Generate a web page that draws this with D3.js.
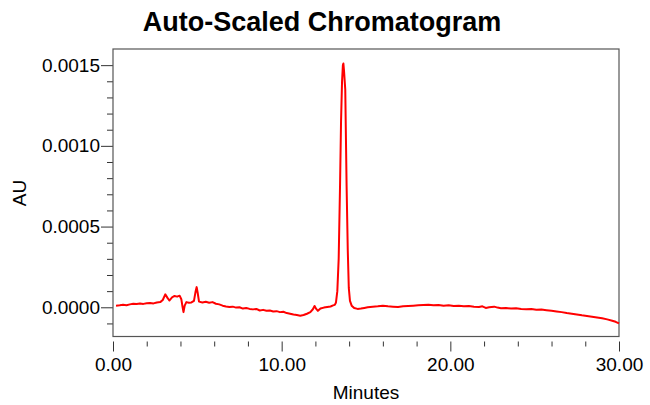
<!DOCTYPE html>
<html>
<head>
<meta charset="utf-8">
<script src="https://cdn.jsdelivr.net/npm/d3@7"></script>
<style>
  html, body { margin: 0; padding: 0; background: #fff; }
  svg { display: block; font-family: "Liberation Sans", Arial, sans-serif; }
</style>
</head>
<body>
<svg id="chart" width="650" height="405"></svg>
<script>
// ---- data ----
const title = "Auto-Scaled Chromatogram";
const xLabel = "Minutes";
const yLabel = "AU";
const xMajorTicks = [0, 10, 20, 30];
const yMajorTicks = [0, 0.0005, 0.0010, 0.0015];

const timeMin = [
  0.18, 0.4, 0.6, 0.8, 1.0, 1.2, 1.4, 1.6, 1.8, 2.0, 2.2, 2.4, 2.6, 2.8, 2.95,
  3.1, 3.25, 3.35, 3.5, 3.65, 3.8, 3.95, 4.05, 4.12, 4.18, 4.25, 4.35, 4.5, 4.65,
  4.8, 4.9, 4.96, 5.02, 5.1, 5.3, 5.5, 5.7, 5.9, 6.1, 6.3, 6.5, 6.7, 6.9, 7.1,
  7.3, 7.5, 7.7, 7.9, 8.1, 8.3, 8.5, 8.7, 8.9, 9.1, 9.3, 9.5, 9.7, 9.9, 10.1,
  10.3, 10.5, 10.7, 10.9, 11.1, 11.3, 11.5, 11.7, 11.85, 11.95, 12.05, 12.15,
  12.3, 12.5, 12.7, 12.9, 13.05,
  13.15, 13.22, 13.30, 13.38, 13.46, 13.52, 13.58, 13.63, 13.66, 13.70, 13.77,
  13.81, 13.85, 13.92, 13.98, 14.05, 14.15,
  14.3, 14.5, 14.7, 14.9, 15.1, 15.4, 15.7, 16.0, 16.3, 16.6, 16.9, 17.2, 17.5,
  17.8, 18.1, 18.4, 18.7, 19.0, 19.3, 19.6, 19.9, 20.2, 20.5, 20.8, 21.1, 21.4,
  21.7, 21.9, 22.1, 22.3, 22.6, 22.8, 23.0, 23.3, 23.6, 23.9, 24.2, 24.5, 24.8,
  25.1, 25.4, 25.7, 26.0, 26.3, 26.6, 26.9, 27.2, 27.5, 27.8, 28.1, 28.4, 28.7,
  29.0, 29.3, 29.6, 29.8, 30.0
];
const absorbanceAU = [
  0.000010, 0.000012, 0.000015, 0.000013, 0.000018, 0.000022, 0.000020, 0.000024,
  0.000021, 0.000025, 0.000027, 0.000024, 0.000030, 0.000032, 0.000045,
  0.000080, 0.000055, 0.000042, 0.000062, 0.000070, 0.000066, 0.000072, 0.000050,
  0.000005, -0.000030, 0.000010, 0.000032, 0.000028, 0.000030,
  0.000040, 0.000100, 0.000125, 0.000090, 0.000035, 0.000030, 0.000034, 0.000028,
  0.000032, 0.000022, 0.000018, 0.000010, 0.000005, 0.000002, 0.000004,
  -0.000002, 0.000000, -0.000008, -0.000005, -0.000010, -0.000013, -0.000010,
  -0.000020, -0.000016, -0.000022, -0.000020, -0.000026, -0.000024, -0.000030,
  -0.000028, -0.000036, -0.000040, -0.000045, -0.000048, -0.000052, -0.000048,
  -0.000040, -0.000030, -0.000012, 0.000008, -0.000010, -0.000022,
  -0.000008, -0.000002, 0.000002, 0.000005, 0.000012,
  0.000015, 0.000030, 0.000100, 0.000300, 0.000750, 0.001150, 0.001400, 0.001500,
  0.001510, 0.001460, 0.001350, 0.001050, 0.000750, 0.000350, 0.000120, 0.000040,
  0.000010,
  -0.000005, -0.000010, -0.000008, -0.000004, 0.000000, 0.000004, 0.000006,
  0.000010, 0.000006, 0.000004, 0.000002, 0.000006, 0.000008,
  0.000010, 0.000012, 0.000014, 0.000016, 0.000012, 0.000014, 0.000010, 0.000012,
  0.000008, 0.000010, 0.000006, 0.000008, 0.000004,
  0.000002, 0.000006, -0.000004, 0.000000, 0.000004, -0.000002, -0.000006,
  -0.000004, -0.000008, -0.000006, -0.000010, -0.000012, -0.000010,
  -0.000015, -0.000014, -0.000018, -0.000022, -0.000026, -0.000030, -0.000036,
  -0.000040, -0.000045, -0.000050, -0.000054, -0.000058, -0.000063,
  -0.000068, -0.000075, -0.000083, -0.000090, -0.000100
];

// ---- chart ----
const svg = d3.select("#chart");
const L = 113, R = 619, T = 49, B = 336.5;

const x = d3.scaleLinear().domain([0, 30]).range([L, R]);
const y = d3.scaleLinear().domain([-0.000181, 0.0016]).range([B, T]);

const font = 19;

// title
svg.append("text")
  .attr("x", 322).attr("y", 31)
  .attr("text-anchor", "middle")
  .attr("font-size", 27).attr("font-weight", "bold")
  .attr("fill", "#000")
  .text(title);

// y axis (ticks outside left of frame)
const yMinor = d3.range(-1, 16).map(i => i * 0.0001).filter(v => !yMajorTicks.some(m => Math.abs(m - v) < 1e-9));
const yAxis = d3.axisLeft(y).tickValues(yMajorTicks).tickSize(12).tickPadding(1)
  .tickFormat(d3.format(".4f"));
const gy = svg.append("g").attr("transform", `translate(${L},0)`).call(yAxis);
gy.select(".domain").remove();
gy.selectAll(".tick line").attr("stroke", "#333");
gy.selectAll(".tick text").attr("font-size", font).attr("fill", "#000")
  .attr("font-family", "Liberation Sans, Arial, sans-serif");
const gyMinor = svg.append("g").attr("transform", `translate(${L},0)`)
  .call(d3.axisLeft(y).tickValues(yMinor).tickSize(6).tickFormat(""));
gyMinor.select(".domain").remove();
gyMinor.selectAll(".tick line").attr("stroke", "#333");

// x axis (ticks below, with a small gap under the frame)
const xMinor = d3.range(0, 31, 2).filter(v => !xMajorTicks.includes(v));
const gx = svg.append("g").attr("transform", `translate(0,${B + 5})`)
  .call(d3.axisBottom(x).tickValues(xMajorTicks).tickSize(10).tickPadding(6)
    .tickFormat(d3.format(".2f")));
gx.select(".domain").remove();
gx.selectAll(".tick line").attr("stroke", "#333");
gx.selectAll(".tick text").attr("font-size", font).attr("fill", "#000")
  .attr("font-family", "Liberation Sans, Arial, sans-serif");
const gxMinor = svg.append("g").attr("transform", `translate(0,${B + 5})`)
  .call(d3.axisBottom(x).tickValues(xMinor).tickSize(5).tickFormat(""));
gxMinor.select(".domain").remove();
gxMinor.selectAll(".tick line").attr("stroke", "#333");

// frame
svg.append("rect")
  .attr("x", L).attr("y", T).attr("width", R - L).attr("height", B - T)
  .attr("fill", "none").attr("stroke", "#555").attr("stroke-width", 1.2);

// axis titles
svg.append("text")
  .attr("x", 366).attr("y", 399)
  .attr("text-anchor", "middle").attr("font-size", font).attr("fill", "#000")
  .text(xLabel);
svg.append("text")
  .attr("transform", "translate(26,193) rotate(-90)")
  .attr("text-anchor", "middle").attr("font-size", font).attr("fill", "#000")
  .text(yLabel);

// trace
const data = timeMin.map((t, i) => ({ t, v: absorbanceAU[i] }));
const line = d3.line().x(d => x(d.t)).y(d => y(d.v));
svg.append("path")
  .datum(data)
  .attr("d", line)
  .attr("fill", "none")
  .attr("stroke", "#ff0000")
  .attr("stroke-width", 2)
  .attr("stroke-linejoin", "round");
</script>
</body>
</html>
